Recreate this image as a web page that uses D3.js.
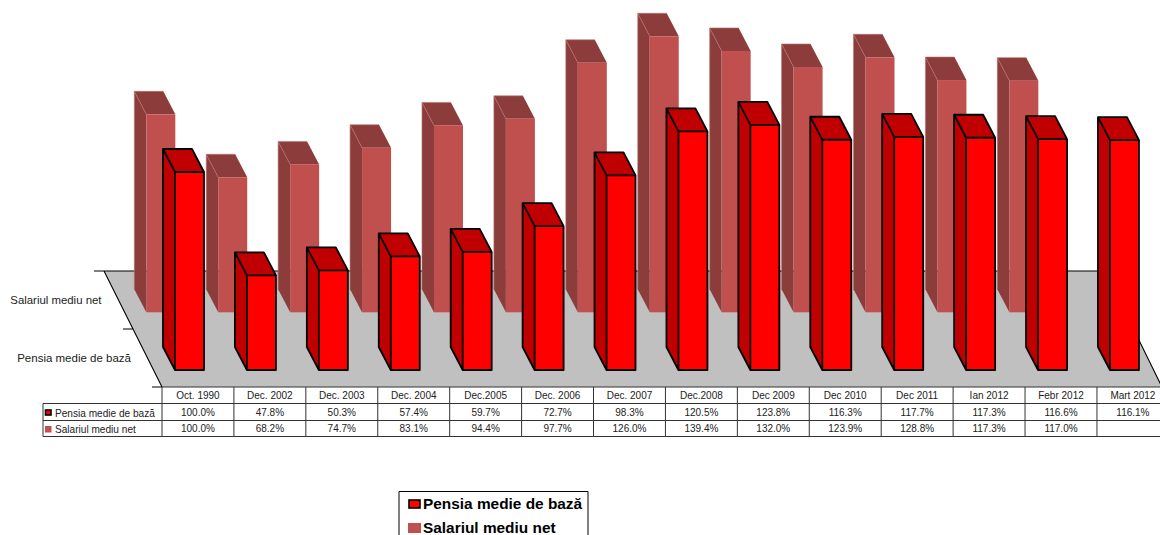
<!DOCTYPE html>
<html>
<head>
<meta charset="utf-8">
<script src="https://cdn.jsdelivr.net/npm/d3@7"></script>
<style>
  html, body { margin: 0; padding: 0; background: #fff; overflow: hidden; }
  text { font-family: "Liberation Sans", Arial, sans-serif; fill: #222; }
</style>
</head>
<body>
<div id="chart"></div>
<script>
var categories = ["Oct. 1990", "Dec. 2002", "Dec. 2003", "Dec. 2004", "Dec.2005", "Dec. 2006", "Dec. 2007",
  "Dec.2008", "Dec 2009", "Dec 2010", "Dec 2011", "Ian 2012", "Febr 2012", "Mart 2012"];
var pensie = [100.0, 47.8, 50.3, 57.4, 59.7, 72.7, 98.3, 120.5, 123.8, 116.3, 117.7, 117.3, 116.6, 116.1];
var salariu = [100.0, 68.2, 74.7, 83.1, 94.4, 97.7, 126.0, 139.4, 132.0, 123.9, 128.8, 117.3, 117.0, null];
var seriesNames = ["Pensia medie de bază", "Salariul mediu net"];

var svg = d3.select("#chart").append("svg")
    .attr("width", 1160)
    .attr("height", 535);

var left = 162, step = 71.92;
var x = d3.scaleBand().domain(categories).range([left, left + step * categories.length]);
var h = d3.scaleLinear().domain([0, 100]).range([0, 198]);

// depth axis: front series near the table, back series behind it
var depth = d3.scalePoint().domain(seriesNames).range([370, 312.3]);
var shift = d3.scaleOrdinal().domain(seriesNames).range([13, -15.7]);
var front = { "Pensia medie de bază": "#ff0000", "Salariul mediu net": "#c0504d" };
var side = { "Pensia medie de bază": "#c00000", "Salariul mediu net": "#8c3d3b" };
var barW = 29, dx = -12, dy = -23;

// floor
var floor = [[104, 271], [1105, 271], [1162, 387], [162, 387]];
svg.append("path")
    .attr("d", "M" + floor.join("L") + "Z")
    .attr("fill", "#c0c0c0");
svg.append("path").attr("d", "M94,271H1105M104,271L162,387M123,329H133M152,387H162M1105,271L1162,387")
    .attr("fill", "none").attr("stroke", "#000").attr("stroke-width", 1.1);

svg.append("text").attr("x", 101.5).attr("y", 304).attr("text-anchor", "end")
    .style("font-size", "11.4px").text(seriesNames[1]);
svg.append("text").attr("x", 131).attr("y", 362).attr("text-anchor", "end")
    .style("font-size", "11.5px").text(seriesNames[0]);

function drawBars(name, values, stroke) {
  var base = depth(name);
  var g = svg.append("g");
  var bars = g.selectAll("g")
      .data(values.map(function(v, i) { return { cat: categories[i], v: v }; })
        .filter(function(d) { return d.v !== null; }))
      .join("g")
      .attr("transform", function(d) {
        return "translate(" + (x(d.cat) + shift(name)) + "," + base + ")";
      });

  // left side
  bars.append("path")
      .attr("d", function(d) {
        var t = -h(d.v);
        return "M0,0L" + dx + "," + dy + "L" + dx + "," + (t + dy) + "L0," + t + "Z";
      })
      .attr("fill", side[name]);
  // top
  bars.append("path")
      .attr("d", function(d) {
        var t = -h(d.v);
        return "M0," + t + "L" + dx + "," + (t + dy) + "L" + (dx + barW) + "," + (t + dy) + "L" + barW + "," + t + "Z";
      })
      .attr("fill", side[name]);
  // front
  bars.append("rect")
      .attr("x", 0)
      .attr("y", function(d) { return -h(d.v); })
      .attr("width", barW)
      .attr("height", function(d) { return h(d.v); })
      .attr("fill", front[name]);

  if (stroke) {
    bars.append("path")
        .attr("d", function(d) {
          var t = -h(d.v);
          return "M0,0L" + dx + "," + dy + "V" + (t + dy) + "H" + (dx + barW) + "L" + barW + "," + t +
            "V0H0V" + t + "H" + barW + "M0," + t + "L" + dx + "," + (t + dy);
        })
        .attr("fill", "none")
        .attr("stroke", "#000")
        .attr("stroke-width", 1.8)
        .attr("stroke-linejoin", "round");
  } else {
    bars.append("path")
        .attr("d", function(d) {
          var t = -h(d.v);
          return "M" + dx + "," + dy + "V" + (t + dy) + "H" + (dx + barW) + "M0," + t + "L" + dx + "," + (t + dy);
        })
        .attr("fill", "none")
        .attr("stroke", "#b57472")
        .attr("stroke-width", 0.6);
  }
}

drawBars(seriesNames[1], salariu, false);
drawBars(seriesNames[0], pensie, true);

// data table
var table = svg.append("g");
var lineColor = "#333";
var rowY = [387, 403.5, 420.5, 436.5];
var tableRight = 1160;

table.selectAll("line.row")
    .data(rowY)
    .join("line")
    .attr("class", "row")
    .attr("x1", function(d, i) { return i === 0 ? left : 43; })
    .attr("x2", tableRight)
    .attr("y1", function(d) { return d; })
    .attr("y2", function(d) { return d; })
    .attr("stroke", lineColor)
    .attr("stroke-width", 1);

table.selectAll("line.col")
    .data(categories)
    .join("line")
    .attr("class", "col")
    .attr("x1", function(d) { return x(d); })
    .attr("x2", function(d) { return x(d); })
    .attr("y1", rowY[0])
    .attr("y2", rowY[3])
    .attr("stroke", lineColor)
    .attr("stroke-width", 1);

table.append("line")
    .attr("x1", 43).attr("x2", 43).attr("y1", rowY[1]).attr("y2", rowY[3])
    .attr("stroke", lineColor).attr("stroke-width", 1);

var fmt = function(v) { return v === null ? "" : v.toFixed(1) + "%"; };

table.selectAll("text.head")
    .data(categories)
    .join("text")
    .attr("class", "head")
    .attr("x", function(d) { return x(d) + x.bandwidth() / 2; })
    .attr("y", 399)
    .attr("text-anchor", "middle")
    .style("font-size", "10px")
    .text(function(d) { return d; });

[pensie, salariu].forEach(function(values, r) {
  table.selectAll("text.val" + r)
      .data(values)
      .join("text")
      .attr("class", "val" + r)
      .attr("x", function(d, i) { return x(categories[i]) + x.bandwidth() / 2; })
      .attr("y", r === 0 ? 415.5 : 431.5)
      .attr("text-anchor", "middle")
      .style("font-size", "10px")
      .text(fmt);
});

// row keys
table.append("rect").attr("x", 45.5).attr("y", 410).attr("width", 5.5).attr("height", 5)
    .attr("fill", front[seriesNames[0]]).attr("stroke", "#000").attr("stroke-width", 1.6);
table.append("rect").attr("x", 45).attr("y", 426).attr("width", 6.5).attr("height", 6.5)
    .attr("fill", front[seriesNames[1]]);
table.append("text").attr("x", 55).attr("y", 416.5).style("font-size", "10.1px").text(seriesNames[0]);
table.append("text").attr("x", 55).attr("y", 432.5).style("font-size", "10.1px").text(seriesNames[1]);

// legend
var legend = svg.append("g");
legend.append("path")
    .attr("d", "M399,535V491.5H588V535")
    .attr("fill", "none").attr("stroke", "#000").attr("stroke-width", 1);
legend.append("rect").attr("x", 409).attr("y", 500).attr("width", 11).attr("height", 8)
    .attr("fill", front[seriesNames[0]]).attr("stroke", "#000").attr("stroke-width", 1.6);
legend.append("rect").attr("x", 408).attr("y", 523).attr("width", 13).attr("height", 10)
    .attr("fill", front[seriesNames[1]]);
legend.append("text").attr("x", 423).attr("y", 509).style("font-size", "15.4px").style("font-weight", "bold").style("fill", "#000")
    .text(seriesNames[0]);
legend.append("text").attr("x", 423).attr("y", 533).style("font-size", "15.4px").style("font-weight", "bold").style("fill", "#000")
    .text(seriesNames[1]);
</script>
</body>
</html>
